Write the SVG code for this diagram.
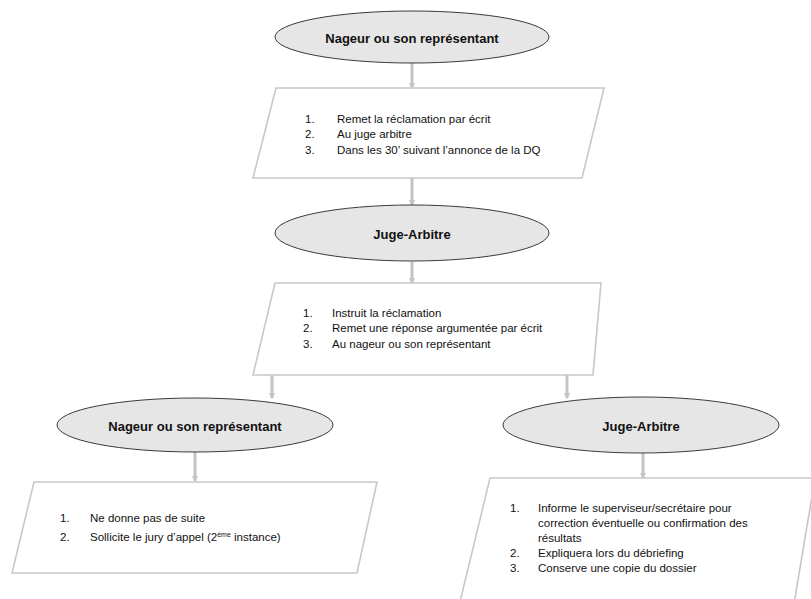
<svg xmlns="http://www.w3.org/2000/svg" width="811" height="599" viewBox="0 0 811 599">
<style>
.ell{fill:#e6e6e6;stroke:#3a3a3a;stroke-width:1}
.para{fill:#ffffff;stroke:#c8c8c8;stroke-width:1.6}
.head{font-family:"Liberation Sans",Arial,sans-serif;font-weight:bold;font-size:13px;fill:#111;text-anchor:middle;dominant-baseline:central}
.txt{font-family:"Liberation Sans",Arial,sans-serif;font-size:11.5px;fill:#111}
.con{stroke:#c4c4c4;stroke-width:3;fill:none;marker-end:url(#ah)}
</style>
<defs>
<marker id="ah" viewBox="0 0 6 6" refX="5" refY="3" markerWidth="2.2" markerHeight="2.2" orient="auto">
<path d="M0,0 L6,3 L0,6 Z" fill="#c4c4c4"/>
</marker>
</defs>
<rect width="811" height="599" fill="#ffffff"/>
<g id="connectors">
<line class="con" x1="412" y1="63" x2="412" y2="88"/>
<line class="con" x1="412" y1="178" x2="412" y2="205"/>
<line class="con" x1="412" y1="262" x2="412" y2="283"/>
<line class="con" x1="272" y1="375" x2="272" y2="398"/>
<line class="con" x1="567" y1="375" x2="567" y2="398"/>
<line class="con" x1="195" y1="452" x2="195" y2="481"/>
<line class="con" x1="643" y1="453" x2="643" y2="478"/>
</g>
<g id="n1">
<ellipse class="ell" cx="412" cy="37" rx="137" ry="26"/>
<text class="head" x="412" y="38">Nageur ou son représentant</text>
</g>
<g id="n2">
<polygon class="para" points="276,88 604,88 582,178 253,178"/>
<text class="txt" x="305" y="123">1.</text><text class="txt" x="337" y="123">Remet la réclamation par écrit</text>
<text class="txt" x="305" y="138">2.</text><text class="txt" x="337" y="138">Au juge arbitre</text>
<text class="txt" x="305" y="154">3.</text><text class="txt" x="337" y="154">Dans les 30’ suivant l’annonce de la DQ</text>
</g>
<g id="n3">
<ellipse class="ell" cx="412" cy="233" rx="137" ry="28"/>
<text class="head" x="412" y="234">Juge-Arbitre</text>
</g>
<g id="n4">
<polygon class="para" points="275,283 601,283 593,375 253,375"/>
<text class="txt" x="303" y="317">1.</text><text class="txt" x="332" y="317">Instruit la réclamation</text>
<text class="txt" x="303" y="332">2.</text><text class="txt" x="332" y="332">Remet une réponse argumentée par écrit</text>
<text class="txt" x="303" y="348">3.</text><text class="txt" x="332" y="348">Au nageur ou son représentant</text>
</g>
<g id="n5">
<ellipse class="ell" cx="195" cy="425" rx="138" ry="27"/>
<text class="head" x="195" y="426">Nageur ou son représentant</text>
</g>
<g id="n6">
<polygon class="para" points="34,482 377,482 357,573 12,573"/>
<text class="txt" x="60" y="522">1.</text><text class="txt" x="90" y="522">Ne donne pas de suite</text>
<text class="txt" x="60" y="541">2.</text><text class="txt" x="90" y="541">Sollicite le jury d’appel (2<tspan font-size="7" dy="-4">ème</tspan><tspan dy="4"> instance)</tspan></text>
</g>
<g id="n7">
<ellipse class="ell" cx="641" cy="425" rx="138" ry="28"/>
<text class="head" x="641" y="426">Juge-Arbitre</text>
</g>
<g id="n8">
<polygon class="para" points="490,478 815,478 793,610 458,610"/>
<text class="txt" x="510" y="512">1.</text><text class="txt" x="538" y="512">Informe le superviseur/secrétaire pour</text>
<text class="txt" x="538" y="527">correction éventuelle ou confirmation des</text>
<text class="txt" x="538" y="542">résultats</text>
<text class="txt" x="510" y="557">2.</text><text class="txt" x="538" y="557">Expliquera lors du débriefing</text>
<text class="txt" x="510" y="572">3.</text><text class="txt" x="538" y="572">Conserve une copie du dossier</text>
</g>
</svg>
